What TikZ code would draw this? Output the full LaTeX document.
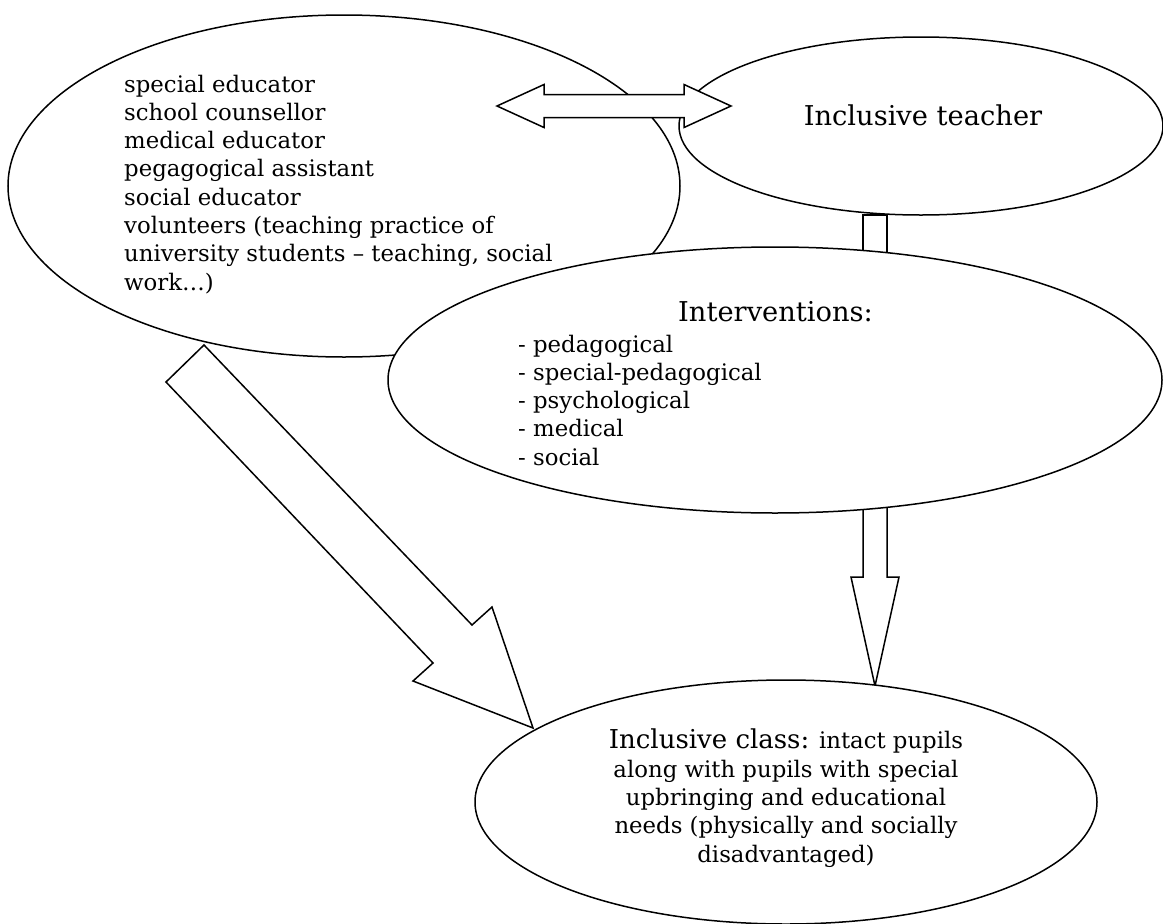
\documentclass[tikz,border=0pt]{standalone}
\usepackage{fontspec}
\setmainfont{DejaVu Serif}
\usetikzlibrary{shapes.geometric}
\tikzset{
	% ellipses
	bubble/.style={
		ellipse,
		draw,
		fill=white,
		line width=1.5pt,
		inner sep=0pt
	}, %
	% hollow block arrows
	blockarrow/.style={
		draw,
		fill=white,
		line width=1.5pt,
		line join=miter
	}, %
	% texts
	bodytext/.style={
		font=\fontsize{22.8}{28.3}\selectfont,
		inner sep=0pt,
		align=left
	}, %
	headtext/.style={
		font=\fontsize{27.3}{33}\selectfont,
		inner sep=0pt
	} %
}

\begin{document}
\begin{tikzpicture}[x=1pt, y=-1pt]
	\useasboundingbox (0,0) rectangle (1163,924);
	
	% staff
	\node[bubble, minimum width=672pt, minimum height=342pt] (staff) at (344,186) {};
	
	% teacher
	\node[bubble, minimum width=484pt, minimum height=178pt] (teacher) at (921,126) {};
	
	% teacher - interventions
	\draw[blockarrow] (863,215) rectangle (887,262);
	
	% interventions -> class
	\draw[blockarrow] (863,500)--(863,577)--(851,577)--(875,686)--(899,577)--(887,577)--(887,500)--cycle;
	
	% interventions
	\node[bubble, minimum width=774pt, minimum height=266pt] (interv) at (775,380) {};
	
	% class
	\node[bubble, minimum width=622pt, minimum height=244pt] (class) at (786,802) {};
	
	% staff -> class
	\draw[blockarrow] (204,345)--(472,625)--(492,607)--(533,728)--(413,681)--(433,663)--(166,382)--cycle;
	
	% staff <-> teacher
	\draw[blockarrow] (497,106)--(544,84.5)--(544,94.5)--(684,94.5)--(684,84.5)--(731,106)
		--(684,127.5)--(684,117.5)--(544,117.5)--(544,127.5)--cycle;
	
	% texts
	\node[bodytext, anchor=north west] (staff-txt) at (124,74.5) {special educator\\
		school counsellor\\
		medical educator\\
		pegagogical assistant\\
		social educator\\
		volunteers (teaching practice of\\
		university students – teaching, social\\
		work…)};
	\node[headtext, anchor=base] (teacher-txt) at (923,125) {Inclusive teacher};
	\node[headtext, anchor=base west] (interv-head) at (678,321) {Interventions:};
	\node[bodytext, anchor=north west] (interv-txt) at (518,334.5) {- pedagogical\\
		- special-pedagogical\\
		- psychological\\
		- medical\\
		- social};
	\node[bodytext, align=center, anchor=north] (class-txt) at (786,729) {{\fontsize{26}{33}\selectfont Inclusive class:} intact pupils\\
		along with pupils with special\\
		upbringing and educational\\
		needs (physically and socially\\
		disadvantaged)};
\end{tikzpicture}
\end{document}
